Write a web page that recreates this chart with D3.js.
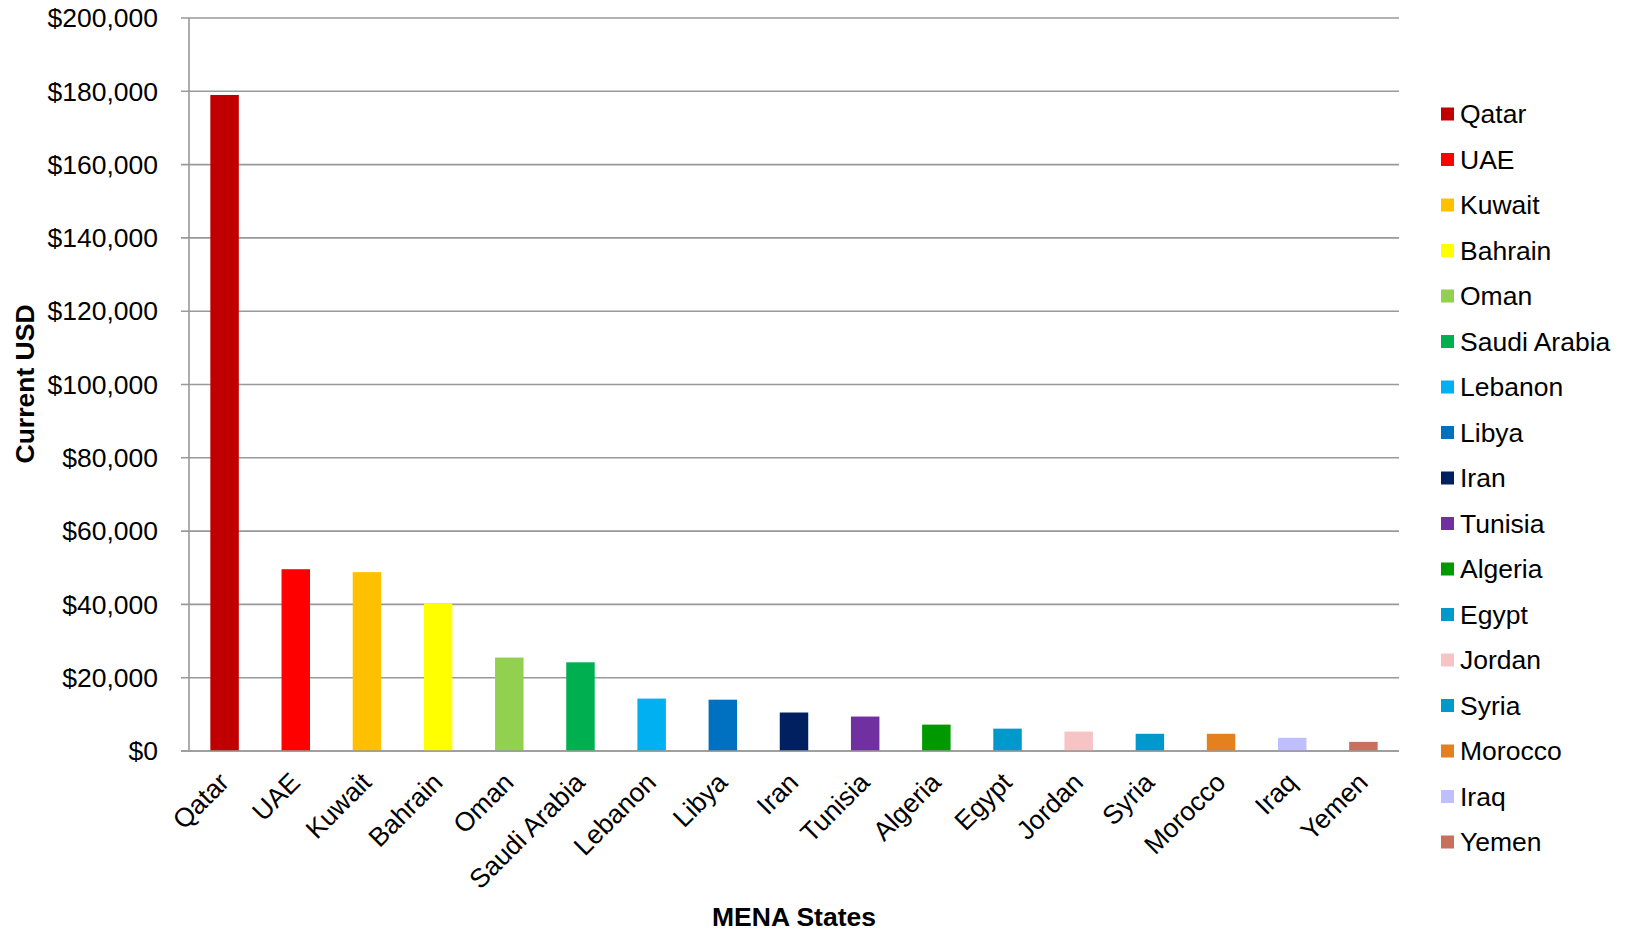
<!DOCTYPE html>
<html><head><meta charset="utf-8">
<script src="https://cdn.jsdelivr.net/npm/d3@7"></script>
<style>body{margin:0;background:#fff;font-family:"Liberation Sans",Arial,sans-serif;}</style>
</head><body>
<svg id="c" width="1626" height="933"></svg>
<script>
const categories = ["Qatar","UAE","Kuwait","Bahrain","Oman","Saudi Arabia","Lebanon","Libya","Iran","Tunisia","Algeria","Egypt","Jordan","Syria","Morocco","Iraq","Yemen"];
const values = [179000,49600,48800,40300,25500,24200,14300,14000,10500,9400,7200,6100,5300,4700,4700,3600,2500];
const colors = ["#C00000","#FF0000","#FFC000","#FFFF00","#92D050","#00B050","#00B0F0","#0070C0","#002060","#7030A0","#009900","#0099CC","#F6C4C4","#0099CC","#E4801E","#BFBFFF","#C8705E"];
const yTicks = [0,20000,40000,60000,80000,100000,120000,140000,160000,180000,200000];

const FS = 26.5;
const svg = d3.select("#c");
const L = 189, R = 1399, T = 18, B = 751;
const x = d3.scaleBand().domain(categories).range([L, R]).paddingInner(0.6).paddingOuter(0.3);
const y = d3.scaleLinear().domain([0, 200000]).range([B, T]);
const fmt = v => "$" + d3.format(",")(v);

svg.append("g").selectAll("line").data(yTicks).join("line")
  .attr("x1", L - 8).attr("x2", R).attr("y1", d => y(d)).attr("y2", d => y(d))
  .attr("stroke", "#999").attr("stroke-width", 1.6);
svg.append("line").attr("x1", L).attr("x2", L).attr("y1", T).attr("y2", B)
  .attr("stroke", "#999").attr("stroke-width", 1.6);
svg.append("g").selectAll("text").data(yTicks).join("text")
  .attr("x", 158).attr("y", d => y(d)).attr("dy", "0.35em")
  .attr("text-anchor", "end").attr("font-size", FS).attr("fill", "#000")
  .text(fmt);

svg.append("g").selectAll("rect").data(values).join("rect")
  .attr("x", (d, i) => x(categories[i])).attr("width", x.bandwidth())
  .attr("y", d => y(d)).attr("height", d => y(0) - y(d))
  .attr("fill", (d, i) => colors[i]);

svg.append("line").attr("x1", L - 8).attr("x2", R).attr("y1", y(0)).attr("y2", y(0))
  .attr("stroke", "#999").attr("stroke-width", 1.6);

svg.append("g").selectAll("text").data(categories).join("text")
  .attr("transform", d => `translate(${x(d) + x.bandwidth() / 2 + 6},${784}) rotate(-45)`)
  .attr("text-anchor", "end").attr("font-size", FS).attr("fill", "#000")
  .text(d => d);

svg.append("text").attr("transform", `translate(34,${(304 + 464) / 2}) rotate(-90)`)
  .attr("text-anchor", "middle").attr("font-size", FS).attr("font-weight", "bold")
  .text("Current USD");
svg.append("text").attr("x", 794).attr("y", 926)
  .attr("text-anchor", "middle").attr("font-size", FS).attr("font-weight", "bold")
  .text("MENA States");

const lg = svg.append("g").selectAll("g").data(categories).join("g")
  .attr("transform", (d, i) => `translate(1441,${114 + i * 45.5})`);
lg.append("rect").attr("x", 0).attr("y", -6.5).attr("width", 13).attr("height", 13)
  .attr("fill", (d, i) => colors[i]);
lg.append("text").attr("x", 19).attr("y", 0).attr("dy", "0.35em")
  .attr("font-size", FS).attr("fill", "#000").text(d => d);
</script>
</body></html>
